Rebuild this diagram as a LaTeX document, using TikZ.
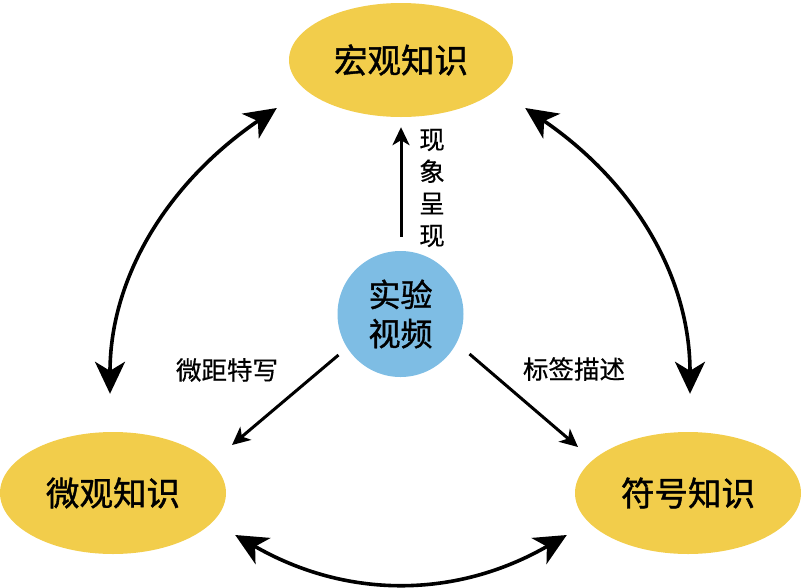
\documentclass[tikz,border=0pt]{standalone}
\usepackage{fontspec}
\setmainfont{Noto Sans CJK SC}
\newfontfamily\heavycjk[FakeBold=1.2]{Noto Sans CJK SC}
\newfontfamily\midcjk[FakeBold=0.5]{Noto Sans CJK SC}
\usetikzlibrary{arrows.meta,calc,shapes.geometric}
\definecolor{ky}{HTML}{F2CD4B}
\definecolor{kb}{HTML}{7EBDE4}
\tikzset{
  know/.style={ellipse, fill=ky, inner sep=0pt, font=\heavycjk\fontsize{33.5}{36}\selectfont},
  bigarr/.style={line width=3.6pt, {Stealth[length=32pt,width=30pt,inset=9pt]}-{Stealth[length=32pt,width=30pt,inset=9pt]}},
  smallarr/.style={line width=3pt, -{Stealth[length=18pt,width=17pt,inset=5pt]}},
  lbl/.style={font=\midcjk\fontsize{25.5}{28}\selectfont, inner sep=0pt}
}
\begin{document}
\begin{tikzpicture}[x=1pt,y=-1pt]
\useasboundingbox (0,0) rectangle (803,587);
% knowledge ellipses
\node[know, minimum width=224pt, minimum height=114pt] (macro) at (401,60) {宏观知识};
\node[know, minimum width=226pt, minimum height=122pt] (micro) at (113,493) {微观知识};
\node[know, minimum width=226pt, minimum height=122pt] (symb) at (688,493) {符号知识};
% centre circle
\node[circle, fill=kb, minimum size=126pt, inner sep=0pt, align=center,
      font=\heavycjk\fontsize{32}{39}\selectfont] (video) at (400.5,314) {实验\\视频};
% curved double arrows
\draw[bigarr] ($(micro.north)+(-3,-38)$) .. controls +(0,-115) and +(-111,76) .. ($(macro.west)+(-12,48)$);
\draw[bigarr] ($(symb.north)+(2,-38)$) .. controls +(0,-115) and +(111,76) .. ($(macro.east)+(12,48)$);
\draw[bigarr] ($(micro.east)+(9,42)$) .. controls +(111,64) and +(-111,64) .. ($(symb.west)+(-8,42)$);
% straight arrows
\draw[smallarr] ($(video.north)+(0.5,-14)$) -- ($(macro.south)+(0,10)$);
\draw[smallarr] ($(video.center)+(-62,41)$) -- ($(micro.center)+(119,-48)$);
\draw[smallarr] ($(video.center)+(69,40)$) -- ($(symb.center)+(-110,-46)$);
% labels
\node[lbl, align=center, font=\midcjk\fontsize{25.5}{32}\selectfont] (l1) at (432,188) {现\\象\\呈\\现};
\node[lbl] (l2) at (227,370) {微距特写};
\node[lbl] (l3) at (574,369) {标签描述};
\end{tikzpicture}
\end{document}
